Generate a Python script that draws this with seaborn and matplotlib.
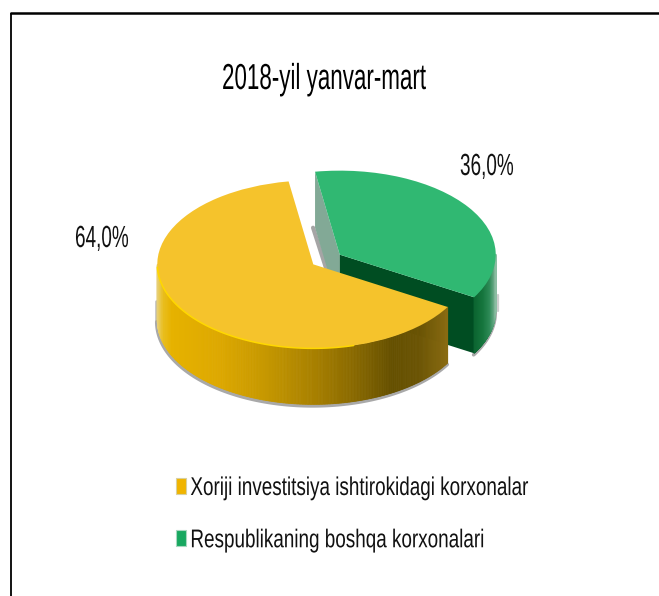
import numpy as np
import matplotlib
matplotlib.use("Agg")
import matplotlib.pyplot as plt
import seaborn as sns
from matplotlib.colors import LinearSegmentedColormap, Normalize
from matplotlib.patches import Patch
from matplotlib.patheffects import AbstractPathEffect
from matplotlib.transforms import Affine2D

title = "2018-yil yanvar-mart"
categories = ["Xoriji investitsiya ishtirokidagi korxonalar", "Respublikaning boshqa korxonalari"]
values = [64.0, 36.0]
top_colors = ["#F5C32C", "#30B872"]

sns.set_theme(style="white")
plt.rcParams["font.family"] = ["Liberation Sans", "DejaVu Sans"]

W, H = 659, 596
RX, RY, DEPTH = 156.0, 84.0, 56.0
K = RX / RY

fig = plt.figure(figsize=(W / 100, H / 100), dpi=100, facecolor="white")
ax = fig.add_axes([0, 0, 1, 1])


class Condense(AbstractPathEffect):
    """Draws text glyphs narrower, the way the reference's stretched picture shows them."""
    def __init__(self, sx):
        super().__init__()
        self.sx = sx

    def draw_path(self, renderer, gc, tpath, affine, rgbFace=None):
        renderer.draw_path(gc, tpath, Affine2D().scale(self.sx, 1) + affine, rgbFace)


def Y(py):
    return (H - py) * K


wedges, _ = ax.pie(values, colors=top_colors, startangle=-30.5, counterclock=False,
                   radius=RX, center=(326.5, Y(259.5)), explode=[16.0, 16.0],
                   wedgeprops=dict(linewidth=0, zorder=5))
ax.set_aspect("auto")
ax.set_xlim(0, W)
ax.set_ylim(0, H * K)
ax.set_axis_off()
dz = DEPTH * K


def rim(w, a):
    a = np.radians(a)
    return w.center[0] + w.r * np.cos(a), w.center[1] + w.r * np.sin(a)


def wall(w, a0, a1, stops, z):
    xs = [s[0] for s in stops]
    nrm = Normalize(min(xs), max(xs))
    cm = LinearSegmentedColormap.from_list("w", [(nrm(x), c) for x, c in stops])
    angs = np.linspace(a0, a1, 260)
    for p, q in zip(angs[:-1], angs[1:]):
        x0, y0 = rim(w, p)
        x1, y1 = rim(w, q)
        col = cm(nrm((x0 + x1) / 2))
        ax.fill([x0, x1, x1, x0], [y0, y1, y1 - dz, y0 - dz], color=col, lw=0.6, zorder=z)


def shadow(w, a0, a1, z):
    angs = np.linspace(a0, a1, 120)
    xs, ys = rim(w, angs)
    ax.plot(xs - 0.5, ys - dz - 1.5 * K, color="#8c8c8c", lw=2.6, alpha=0.75, zorder=z,
            solid_capstyle="round")


yellow, green = wedges
g_lo, g_hi = min(green.theta1, green.theta2), max(green.theta1, green.theta2)

# green slice: cut faces and outer wall
cg = green.center
sx, sy = rim(green, g_hi)
ex, ey = rim(green, g_lo)
ax.plot([sx - 2, cg[0]], [sy - dz, cg[1] - dz], color="#8f8f8f", lw=3, alpha=0.8, zorder=1)
ax.fill([sx, cg[0], cg[0], sx], [sy, cg[1], cg[1] - dz, sy - dz], color="#82A996", lw=0, zorder=2)
ax.fill([cg[0], ex, ex, cg[0]], [cg[1], ey, ey - dz, cg[1] - dz], color="#004D22", lw=0, zorder=3)
shadow(green, g_lo, g_lo + 30, 1)
gx, gy = rim(green, g_lo + 30)
ax.plot([gx + 2, gx + 2], [gy - dz * 0.7, gy - dz], color="#a8a8a8", lw=1.6, alpha=0.55, zorder=1)
wall(green, g_lo, g_lo + 31,
     [(475, "#0C6531"), (483, "#15753D"), (490, "#2E8A57"), (494, "#5FA57F"), (497, "#A9CDB9")], 3)

# yellow slice: outer wall
y_end = yellow.theta2 - 360 if yellow.theta2 > 180 else yellow.theta2
shadow(yellow, -180, y_end, 4)
lx, ly = rim(yellow, -180)
ax.plot([lx - 1.5, lx - 1.5], [ly - dz * 0.65, ly - dz], color="#8c8c8c", lw=1.8, alpha=0.6, zorder=4)
wall(yellow, -180, y_end,
     [(156, "#E8D488"), (163, "#E9BE1E"), (172, "#E6B200"), (220, "#DDA800"), (265, "#C69800"),
      (315, "#A88000"), (360, "#856600"), (393, "#655000"), (420, "#6B5404"), (449, "#8A6C12")], 4.5)
rx_a = np.linspace(-178, -75, 100)
xs, ys = rim(yellow, rx_a)
ax.plot(xs, ys, color="#FFD800", lw=1.1, zorder=6)

# percentage labels
label_pos = [(75, 247), (460, 175)]
for v, (px, py) in zip(values, label_pos):
    t = ax.text(px, Y(py), f"{v:.1f}%".replace(".", ","), ha="left", va="baseline",
                fontsize=22, color="#111111", zorder=8)
    t.set_path_effects([Condense(0.62)])

tt = ax.text(222, Y(89), title, ha="left", va="baseline", fontsize=26, color="black", zorder=8)
tt.set_path_effects([Condense(0.62)])

# chart frame
ax.plot([10.5, 10.5], [Y(H), Y(13)], color="black", lw=1.3, zorder=9, solid_capstyle="butt")
ax.plot([10, W], [Y(13), Y(13)], color="black", lw=1.8, zorder=9, solid_capstyle="butt")

handles = [Patch(facecolor=c, edgecolor="#d8d0a0" if i == 0 else "#a8d8c0", linewidth=0.8)
           for i, c in enumerate(["#F0B400", "#18A860"])]
leg = ax.legend(handles, categories, loc="upper left", bbox_to_anchor=(176 / W, 1 - 476 / H),
                frameon=False, fontsize=18.5, labelcolor="#111111", handlelength=0.39, handleheight=0.56,
                handletextpad=0.17, labelspacing=1.1, borderpad=0, borderaxespad=0)
for t in leg.get_texts():
    t.set_path_effects([Condense(0.735)])

fig.savefig("out.png", dpi=100, facecolor="white")
